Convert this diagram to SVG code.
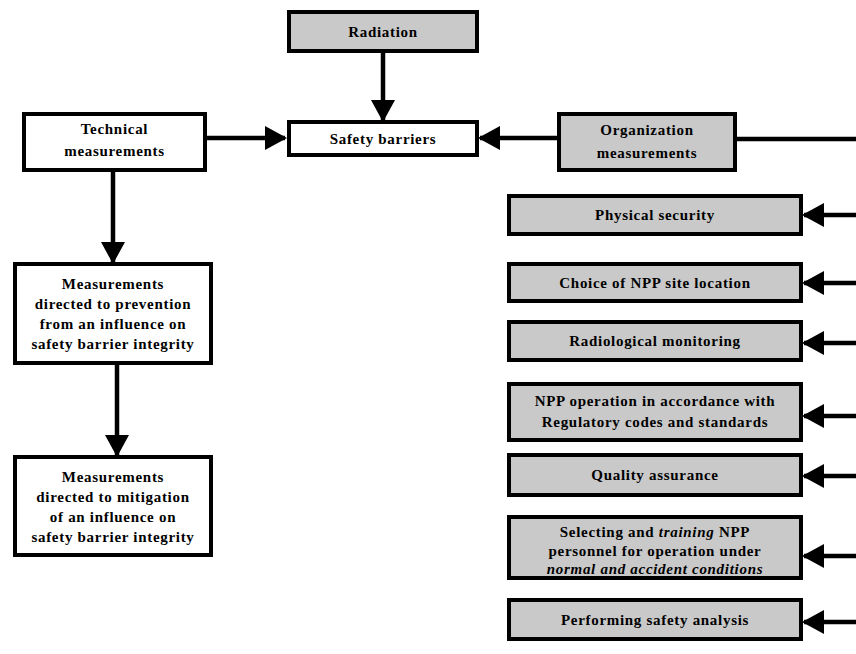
<svg xmlns="http://www.w3.org/2000/svg" width="856" height="654" viewBox="0 0 856 654">
<style>
.box{stroke:#000;stroke-width:4;}
.w{fill:#fff;}
.g{fill:#c9c9c9;}
.t{font-family:"Liberation Serif","Times New Roman",serif;font-weight:bold;font-size:15px;letter-spacing:0.7px;fill:#000;text-anchor:middle;}
.i{font-style:italic;}
.c{stroke:#000;stroke-width:4.5;fill:none;}
</style>
<defs>
<marker id="ah" markerUnits="userSpaceOnUse" markerWidth="22" markerHeight="24" refX="20" refY="12" orient="auto">
<path d="M0,0 L22,12 L0,24 z" fill="#000"/>
</marker>
</defs>
<g id="connectors">
<line class="c" x1="383" y1="53" x2="383" y2="120" marker-end="url(#ah)"/>
<line class="c" x1="207" y1="138" x2="285" y2="138" marker-end="url(#ah)"/>
<line class="c" x1="557" y1="138" x2="480" y2="138" marker-end="url(#ah)"/>
<line class="c" x1="737" y1="139" x2="856" y2="139"/>
<line class="c" x1="113" y1="172" x2="113" y2="262" marker-end="url(#ah)"/>
<line class="c" x1="117" y1="365" x2="117" y2="455" marker-end="url(#ah)"/>
<line class="c" x1="856" y1="215" x2="804" y2="215" marker-end="url(#ah)"/>
<line class="c" x1="856" y1="283" x2="804" y2="283" marker-end="url(#ah)"/>
<line class="c" x1="856" y1="343" x2="804" y2="343" marker-end="url(#ah)"/>
<line class="c" x1="856" y1="416" x2="804" y2="416" marker-end="url(#ah)"/>
<line class="c" x1="856" y1="476" x2="804" y2="476" marker-end="url(#ah)"/>
<line class="c" x1="856" y1="556" x2="804" y2="556" marker-end="url(#ah)"/>
<line class="c" x1="856" y1="622" x2="804" y2="622" marker-end="url(#ah)"/>
</g>
<g id="radiation">
<rect class="box g" x="289" y="12" width="188" height="39"/>
<text class="t" x="383" y="37">Radiation</text>
</g>
<g id="safety-barriers">
<rect class="box w" x="289" y="122" width="188" height="33"/>
<text class="t" x="383" y="144">Safety barriers</text>
</g>
<g id="technical">
<rect class="box w" x="24" y="114" width="181" height="56"/>
<text class="t" x="114.5" y="134">Technical</text>
<text class="t" x="114.5" y="156">measurements</text>
</g>
<g id="organization">
<rect class="box g" x="559" y="114" width="176" height="56"/>
<text class="t" x="647" y="135">Organization</text>
<text class="t" x="647" y="158">measurements</text>
</g>
<g id="prevention">
<rect class="box w" x="15" y="264" width="196" height="99"/>
<text class="t" x="113" y="289">Measurements</text>
<text class="t" x="113" y="309">directed to prevention</text>
<text class="t" x="113" y="329">from an influence on</text>
<text class="t" x="113" y="349">safety barrier integrity</text>
</g>
<g id="mitigation">
<rect class="box w" x="15" y="457" width="196" height="98"/>
<text class="t" x="113" y="482">Measurements</text>
<text class="t" x="113" y="502">directed to mitigation</text>
<text class="t" x="113" y="522">of an influence on</text>
<text class="t" x="113" y="542">safety barrier integrity</text>
</g>
<g id="physical-security">
<rect class="box g" x="509" y="196" width="292" height="38"/>
<text class="t" x="655" y="220">Physical security</text>
</g>
<g id="site-location">
<rect class="box g" x="509" y="264" width="292" height="37"/>
<text class="t" x="655" y="288">Choice of NPP site location</text>
</g>
<g id="radiological-monitoring">
<rect class="box g" x="509" y="322" width="292" height="38"/>
<text class="t" x="655" y="346">Radiological monitoring</text>
</g>
<g id="npp-operation">
<rect class="box g" x="509" y="384" width="292" height="56"/>
<text class="t" x="655" y="406">NPP operation in accordance with</text>
<text class="t" x="655" y="427">Regulatory codes and standards</text>
</g>
<g id="quality-assurance">
<rect class="box g" x="509" y="455" width="292" height="40"/>
<text class="t" x="655" y="480">Quality assurance</text>
</g>
<g id="selecting-training">
<rect class="box g" x="509" y="517" width="292" height="61"/>
<text class="t" x="655" y="537">Selecting and <tspan class="i">training</tspan> NPP</text>
<text class="t" x="655" y="556">personnel for operation under</text>
<text class="t i" x="655" y="574">normal and accident conditions</text>
</g>
<g id="safety-analysis">
<rect class="box g" x="509" y="600" width="292" height="39"/>
<text class="t" x="655" y="625">Performing safety analysis</text>
</g>
</svg>
